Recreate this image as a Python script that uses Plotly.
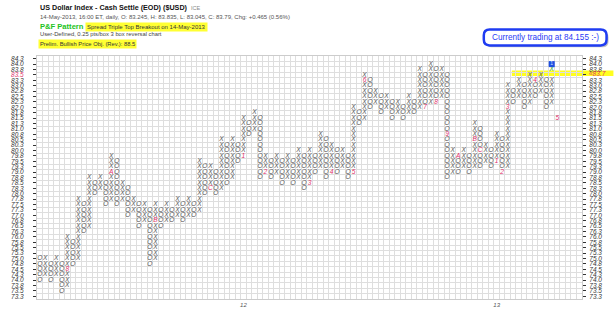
import plotly.graph_objects as go

# ---------------- data ----------------
BOX = 0.25
col_types = "OXOXOXOXOXOXOXOXOXOXOXOXOXOXOXOXOXOXOXOXOXOXOXOXOXOXOXOXOXOXOXOXOXOXOXOXOXOXOXOXOXOXOXOXOXOXOX"
col_low = [74.0, 74.25, 74.0, 74.25, 73.5, 73.75, 74.75, 75.0, 76.25, 76.5,
           78.0, 78.25, 77.5, 77.75, 77.5, 77.75, 77.0, 77.25, 76.5, 76.75,
           74.75, 75.0, 76.5, 76.75, 76.75, 77.0, 76.75, 77.0, 77.0, 77.25,
           78.0, 78.25, 78.0, 78.25, 78.5, 78.75, 79.5, 79.75, 80.75, 81.0,
           78.75, 79.0, 78.75, 79.0, 78.5, 78.75, 78.5, 78.75, 78.25, 78.5,
           79.0, 79.25, 78.75, 79.0, 79.0, 79.25, 78.75, 79.0, 81.25, 81.5,
           82.0, 82.25, 81.75, 82.0, 81.5, 81.75, 81.5, 81.75, 81.75, 82.0,
           82.0, 82.25, 82.25, 82.5, 78.75, 79.0, 79.0, 79.25, 79.0, 79.25,
           79.25, 79.5, 79.25, 79.5, 79.0, 79.25, 82.25, 82.5, 82.0, 82.25,
           82.5, 82.75, 82.0, 82.25, 81.5, 81.75]
col_high = [75.0, 75.0, 74.75, 75.0, 74.75, 76.0, 75.75, 77.75, 77.5, 78.75,
            78.5, 78.75, 78.5, 79.75, 79.5, 78.5, 78.25, 77.75, 77.5, 77.5,
            77.25, 77.5, 77.25, 77.5, 77.25, 77.75, 77.5, 77.75, 77.5, 79.5,
            79.25, 79.25, 79.0, 80.5, 80.25, 80.5, 80.25, 81.5, 81.25, 81.75,
            81.5, 79.75, 79.5, 79.75, 79.5, 79.75, 79.5, 80.0, 79.75, 80.0,
            79.75, 80.75, 80.5, 80.25, 80.0, 80.0, 79.75, 82.0, 81.75, 83.5,
            83.25, 82.75, 82.5, 82.5, 82.25, 82.25, 82.0, 82.5, 82.25, 83.75,
            83.5, 84.0, 83.75, 83.75, 83.5, 80.0, 79.75, 80.0, 79.75, 81.25,
            81.0, 80.25, 80.0, 80.75, 80.5, 83.0, 82.75, 83.25, 83.0, 83.5,
            83.25, 83.5, 83.25, 83.25, 83.0, 84.0]

# month markers (column, level, label)
month_cols = [5, 13, 21, 31, 37, 41, 49, 53, 57, 59, 70, 72, 74, 76, 79, 80, 83, 84, 85, 90, 94]
month_levels = [74.5, 79.0, 76.75, 78.25, 79.75, 79.0, 78.5, 79.0, 79.0, 83.25, 82.0, 82.25,
                80.75, 79.75, 80.5, 80.0, 79.5, 79.0, 82.0, 83.25, 81.5]
month_labels = ["8", "A", "B", "C", "1", "2", "3", "4", "5", "6", "7", "8",
                "9", "A", "B", "C", "1", "2", "3", "4", "5"]

# latest boxes of the last column
last_green_level = 83.75
last_blue_level = 84.0

# price scale
price_min, price_max = 73.25, 84.25
highlight_level = 83.5
band_label = "«83.7"
year_cols = [37, 83]
year_labels = ["12", "13"]

# ---------------- geometry ----------------
W, H = 615, 319
ML, MR, MT, MB = 27, 33, 56, 11
PW, PH = W - ML - MR, H - MT - MB


def px_x(x):
    return (x - ML) / PW


def px_y(y):
    return (H - MB - y) / PH


n_levels = int(round((price_max - price_min) / BOX)) + 1
levels = [price_min + i * BOX for i in range(n_levels)]

special = {(m, int(round(l * 4))): lab for m, l, lab in zip(month_cols, month_levels, month_labels)}
last_col = len(col_types) - 1
skip_last = {int(round(last_green_level * 4)), int(round(last_blue_level * 4))}

xs = {"X": [], "O": []}
ys = {"X": [], "O": []}
for c, (t, lo, hi) in enumerate(zip(col_types, col_low, col_high)):
    n = int(round((hi - lo) / BOX))
    for k in range(n + 1):
        lv = lo + k * BOX
        key = int(round(lv * 4))
        if (c, key) in special:
            continue
        if c == last_col and key in skip_last:
            continue
        xs[t].append(c)
        ys[t].append(lv)

glyph_font = dict(family="Liberation Sans, Arial", size=6.6, color="#5a5a5a", style="italic")

fig = go.Figure()
for t in ["X", "O"]:
    fig.add_trace(go.Scatter(x=xs[t], y=ys[t], mode="text", text=[t] * len(xs[t]),
                             textfont=glyph_font, hoverinfo="skip", showlegend=False))

fig.add_trace(go.Scatter(x=month_cols, y=month_levels, mode="text", text=month_labels,
                         textfont=dict(family="Liberation Sans, Arial", size=6.6, color="#e0306a", style="italic"),
                         hoverinfo="skip", showlegend=False))

fig.add_trace(go.Scatter(x=[last_col], y=[last_green_level], mode="text", text=["X"],
                         textfont=dict(family="Liberation Sans, Arial", size=6.6, color="#2aa52a", style="italic"),
                         hoverinfo="skip", showlegend=False))
fig.add_trace(go.Scatter(x=[last_col], y=[last_blue_level], mode="markers+text", text=["1"],
                         marker=dict(symbol="square", size=6, color="#1f4fe0"),
                         textfont=dict(family="Liberation Sans, Arial", size=5, color="#cfe0ff"),
                         textposition="middle center", hoverinfo="skip", showlegend=False))
# anchor for the right-hand price axis
fig.add_trace(go.Scatter(x=[0], y=[80], yaxis="y2", mode="markers", marker=dict(opacity=0),
                         hoverinfo="skip", showlegend=False))


def lab(v):
    return f"{v + 1e-9:.1f}"


left_text = [("<span style='color:#e0306a'>%s</span>" % lab(v)) if abs(v - highlight_level) < 1e-9 else lab(v)
             for v in levels]
right_text = ["" if abs(v - highlight_level) < 1e-9 else lab(v) for v in levels]

grid_col = "#dedede"
tickfont = dict(family="Liberation Sans, Arial", size=6.5, color="#333333", style="italic")
yrange = [price_min - BOX / 2, price_max + BOX / 2]

fig.update_layout(
    width=W, height=H, margin=dict(l=ML, r=MR, t=MT, b=MB),
    paper_bgcolor="white", plot_bgcolor="rgba(0,0,0,0)",
    font=dict(family="Liberation Sans, Arial"),
    xaxis=dict(range=[-0.5, 98.5], showgrid=False, zeroline=False,
               tickmode="array", tickvals=year_cols, ticktext=year_labels, ticks="",
               tickfont=dict(family="Liberation Sans, Arial", size=6, color="#555555", style="italic"),
               minor=dict(tick0=-0.5, dtick=1, showgrid=True, gridcolor=grid_col, gridwidth=1, ticks=""),
               showline=True, linecolor="#cccccc", mirror=True, fixedrange=True),
    yaxis=dict(range=yrange, showgrid=False, zeroline=False,
               tickmode="array", tickvals=levels, ticktext=left_text,
               ticks="outside", ticklen=3, tickcolor="#333333", tickwidth=1,
               ticklabelstandoff=8, tickfont=tickfont,
               minor=dict(tick0=price_min - BOX / 2, dtick=BOX, showgrid=True, gridcolor=grid_col,
                          gridwidth=1, ticks=""),
               showline=True, linecolor="#cccccc", mirror=True, fixedrange=True),
    yaxis2=dict(range=yrange, overlaying="y", side="right", showgrid=False, zeroline=False,
                tickmode="array", tickvals=levels, ticktext=right_text,
                ticks="outside", ticklen=3, tickcolor="#333333", tickwidth=1,
                ticklabelstandoff=2, tickfont=tickfont, showline=False, fixedrange=True),
    showlegend=False,
)

# yellow highlight band
fig.add_shape(type="rect", xref="paper", yref="paper",
              x0=px_x(510.5), x1=px_x(614), y0=px_y(76.8), y1=px_y(71.0),
              fillcolor="#ffff20", line=dict(width=0), layer="below")


# rounded blue box with shadow
def rounded(x0, y0, x1, y1, r):
    pts = []
    def P(x, y):
        return f"{px_x(x):.5f},{px_y(y):.5f}"
    pts.append("M " + P(x0 + r, y0))
    pts.append("L " + P(x1 - r, y0))
    pts.append("Q " + P(x1, y0) + " " + P(x1, y0 + r))
    pts.append("L " + P(x1, y1 - r))
    pts.append("Q " + P(x1, y1) + " " + P(x1 - r, y1))
    pts.append("L " + P(x0 + r, y1))
    pts.append("Q " + P(x0, y1) + " " + P(x0, y1 - r))
    pts.append("L " + P(x0, y0 + r))
    pts.append("Q " + P(x0, y0) + " " + P(x0 + r, y0))
    return " ".join(pts) + " Z"


fig.add_shape(type="path", xref="paper", yref="paper", path=rounded(484, 30.5, 609, 47, 6),
              fillcolor="#9a9a9a", line=dict(width=0), opacity=0.6, layer="above")
fig.add_shape(type="path", xref="paper", yref="paper", path=rounded(482, 28.5, 607, 45, 6),
              fillcolor="white", line=dict(color="#1f3cf2", width=2.5), layer="above")

anns = [
    dict(text="<b>US Dollar Index - Cash Settle (EOD) ($USD)</b>", x=28, y=5.8, size=7.2, color="#111111"),
    dict(text="ICE", x=182, y=6.2, size=5.5, color="#8a8a8a"),
    dict(text="14-May-2013, 16:00 ET, daily, O: 83.245, H: 83.835, L: 83.045, C: 83.79, Chg: +0.465 (0.56%)",
         x=28, y=15.8, size=6, color="#555555"),
    dict(text="<b>P&F Pattern</b>", x=28, y=25.0, size=7.6, color="#22c322"),
    dict(text="Spread Triple Top Breakout on 14-May-2013", x=75.5, y=25.6, size=6, color="#333333",
         bg="#ffff33"),
    dict(text="User-Defined, 0.25 pts/box 3 box reversal chart", x=28, y=33.5, size=5.8, color="#444444"),
    dict(text="Prelim. Bullish Price Obj. (Rev.): 88.5", x=28, y=43.9, size=5.8, color="#333333",
         bg="#ffff33"),
]
for a in anns:
    fig.add_annotation(text=a["text"], xref="paper", yref="paper", x=px_x(a["x"]), y=px_y(a["y"]),
                       xanchor="left", yanchor="middle", showarrow=False,
                       font=dict(family="Liberation Sans, Arial", size=a["size"], color=a["color"]),
                       bgcolor=a.get("bg", "rgba(0,0,0,0)"), borderpad=1)

fig.add_annotation(text="Currently trading at 84.155 :-)", xref="paper", yref="paper",
                   x=px_x(544.5), y=px_y(36.8), xanchor="center", yanchor="middle", showarrow=False,
                   font=dict(family="Liberation Sans, Arial", size=8.2, color="#2a3cf5"))

fig.add_annotation(text=band_label, xref="paper", yref="y", x=px_x(587), y=highlight_level + 0.085,
                   xanchor="left", yanchor="middle", showarrow=False,
                   font=dict(family="Liberation Sans, Arial", size=6.5, color="#e0306a", style="italic"))

fig.write_html("out.html")
